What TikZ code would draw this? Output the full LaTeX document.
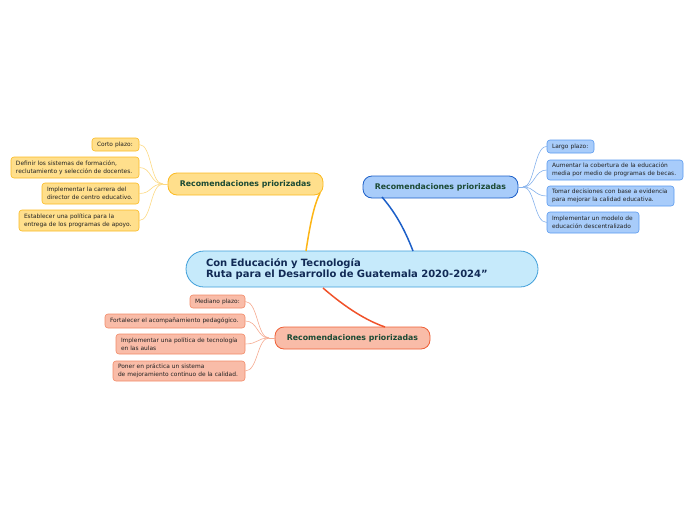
\documentclass[tikz,border=0pt]{standalone}
\usepackage{fontspec}
\setmainfont{DejaVu Sans}
\definecolor{cfill}{HTML}{C6EAFB}
\definecolor{cbord}{HTML}{3E9ED9}
\definecolor{ctext}{HTML}{112A55}
\definecolor{gtext}{HTML}{1B4A34}
\definecolor{yfill}{HTML}{FFDF8C}
\definecolor{ybord}{HTML}{FBBA21}
\definecolor{yline}{HTML}{FDB515}
\definecolor{ysline}{HTML}{FCD982}
\definecolor{bfill}{HTML}{A8CCFA}
\definecolor{bbord}{HTML}{1C5FC8}
\definecolor{bsbord}{HTML}{5A9AEF}
\definecolor{bline}{HTML}{1C5FC8}
\definecolor{bsline}{HTML}{86B2EC}
\definecolor{rfill}{HTML}{F9BCA8}
\definecolor{rbord}{HTML}{EF5F36}
\definecolor{rsbord}{HTML}{F28A68}
\definecolor{rline}{HTML}{F0522A}
\definecolor{rsline}{HTML}{F5AA90}
\definecolor{stext}{HTML}{222222}
\tikzset{
  base/.style={rounded corners=3pt, inner xsep=5pt, inner ysep=0pt, line width=0.6pt, text=stext,
    font=\fontsize{5.9}{7.8}\selectfont, align=left},
  ysub/.style={base, draw=ybord, fill=yfill},
  bsub/.style={base, draw=bsbord, fill=bfill},
  rsub/.style={base, draw=rsbord, fill=rfill},
  mainbox/.style={rounded corners=9pt, inner sep=0pt, line width=0.8pt, text=gtext,
    font=\bfseries\fontsize{7.8}{9}\selectfont, align=center, minimum width=155pt, minimum height=22pt},
  sline/.style={line width=0.6pt},
  mline/.style={line width=1.5pt}
}
\begin{document}
\begin{tikzpicture}[x=1pt,y=-1pt]
\useasboundingbox (0,0) rectangle (696,520);
% central
\node[draw=cbord, fill=cfill, rounded corners=18pt, line width=0.8pt, minimum width=352pt, minimum height=36pt,
  text width=312pt, align=left, inner sep=0pt, text=ctext, font=\bfseries\fontsize{10}{11.2}\selectfont]
  (c) at (362,269) {Con Educación y Tecnología\\Ruta para el Desarrollo de Guatemala 2020-2024”};
% main nodes
\node[mainbox, draw=ybord, fill=yfill] (ym) at (245.5,184) {Recomendaciones priorizadas};
\node[mainbox, draw=bbord, fill=bfill] (bm) at (440.5,187) {Recomendaciones priorizadas};
\node[mainbox, draw=rbord, fill=rfill] (rm) at (352.5,338) {Recomendaciones priorizadas};
% main connectors
\coordinate (cy) at (306,251);
\coordinate (cb) at (413,251);
\coordinate (cr) at (323,288);
\coordinate (ye) at (320,193);
\coordinate (be) at (382,197);
\coordinate (re) at (385,327);
\draw[mline, yline] (cy) .. controls (311,218) and (315,203) .. (ye);
\draw[mline, bline] (cb) .. controls (403,225) and (393,210) .. (be);
\draw[mline, rline] (cr) .. controls (345,307) and (365,320) .. (re);
% yellow subs
\node[ysub, minimum width=47pt, minimum height=13pt, text width=37pt] (y1) at (115.5,144.5) {Corto plazo:};
\node[ysub, minimum width=128pt, minimum height=21pt, text width=118pt] (y2) at (75,167.5) {Definir los sistemas de formación,\\reclutamiento y selección de docentes.};
\node[ysub, minimum width=97pt, minimum height=21pt, text width=87pt] (y3) at (90.5,193.5) {Implementar la carrera del\\director de centro educativo.};
\node[ysub, minimum width=120pt, minimum height=21pt, text width=110pt] (y4) at (79,220.5) {Establecer una política para la\\entrega de los programas de apoyo.};
\coordinate (yh) at (163,184);
\draw[sline, ysline] (ym.west) -- (yh);
\foreach \n in {y1,y2,y3,y4} \draw[sline, ysline] (yh) .. controls (150,184) and (152,0|-\n.east) .. (\n.east);
% blue subs
\node[bsub, minimum width=47pt, minimum height=13pt, text width=37pt] (b1) at (570.5,146.5) {Largo plazo:};
\node[bsub, minimum width=136pt, minimum height=20pt, text width=126pt] (b2) at (615,170) {Aumentar la cobertura de la educación\\media por medio de programas de becas.};
\node[bsub, minimum width=127pt, minimum height=20pt, text width=117pt] (b3) at (610.5,196) {Tomar decisiones con base a evidencia\\para mejorar la calidad educativa.};
\node[bsub, minimum width=92pt, minimum height=21pt, text width=82pt] (b4) at (593,222.5) {Implementar un modelo de\\educación descentralizado};
\coordinate (bh) at (523,187);
\draw[sline, bsline] (bm.east) -- (bh);
\foreach \n in {b1,b2,b3,b4} \draw[sline, bsline] (bh) .. controls (535,187) and (534,0|-\n.west) .. (\n.west);
% red subs
\node[rsub, minimum width=55pt, minimum height=13pt, text width=45pt] (r1) at (217.5,301.5) {Mediano plazo:};
\node[rsub, minimum width=140pt, minimum height=14pt, text width=130pt] (r2) at (175,321) {Fortalecer el acompañamiento pedagógico.};
\node[rsub, minimum width=129pt, minimum height=20pt, text width=119pt] (r3) at (180.5,344) {Implementar una política de tecnología\\en las aulas};
\node[rsub, minimum width=132pt, minimum height=20pt, text width=122pt] (r4) at (179,371) {Poner en práctica un sistema\\de mejoramiento continuo de la calidad.};
\coordinate (rh) at (269,338);
\draw[sline, rsline] (rm.west) -- (rh);
\foreach \n in {r1,r2,r3,r4} \draw[sline, rsline] (rh) .. controls (257,338) and (258,0|-\n.east) .. (\n.east);
\end{tikzpicture}
\end{document}
